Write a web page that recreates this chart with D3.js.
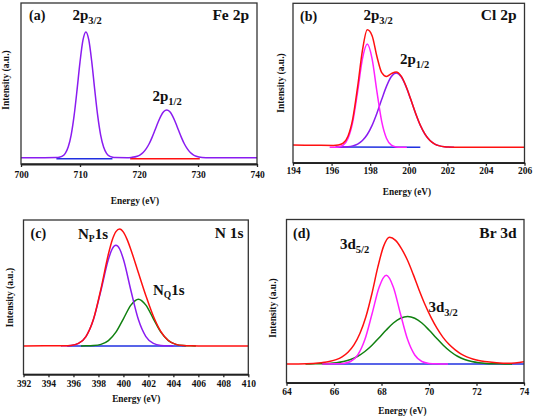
<!DOCTYPE html>
<html><head><meta charset="utf-8">
<script src="https://cdn.jsdelivr.net/npm/d3@7"></script>
<style>
body{margin:0;background:#fff}
svg{display:block}
text{font-family:"Liberation Serif","Times New Roman",serif;font-weight:bold;fill:#111}
</style>
</head><body>
<svg id="chart" width="534" height="420"></svg>
<script>
// ---------------- DATA ----------------
// (a) Fe 2p
const feTicks = [700, 710, 720, 730, 740];
const fePurple = [[700,0],[704,0],[706,0.1],[706.5,0.4],[707,1.2],[707.5,3.5],[708,8.5],[708.5,18.0],[709,33.4],[709.5,53.9],[710,76.0],[710.5,93.4],[711,100],[711.5,93.4],[712,76.0],[712.5,53.9],[713,33.4],[713.5,18.0],[714,8.5],[714.5,3.5],[715,1.2],[715.5,0.4],[716,0.1],[718,0],[718.7,0.26],[719.7,1.2],[720.2,2.3],[720.7,4.1],[721.2,7.0],[721.7,10.9],[722.2,16.0],[722.7,21.8],[723.2,27.8],[723.7,33.1],[724.2,36.7],[724.7,38],[725.2,36.7],[725.7,33.1],[726.2,27.8],[726.7,21.8],[727.2,16.0],[727.7,10.9],[728.2,7.0],[728.7,4.1],[729.2,2.3],[729.7,1.2],[730.7,0.26],[732,0],[736,0],[740,0]];
const feBlue = [[706,-0.8],[715.5,-0.8]];
const feRed = [[718.5,-0.8],[730.3,-0.8]];

// (b) Cl 2p
const clTicks = [194, 196, 198, 200, 202, 204, 206];
const clRed = [[194,1.9],[195,1.7],[196.1,1.6],[196.35,1.9],[196.6,3.5],[196.85,9.3],[197.1,24.0],[197.35,50.5],[197.6,80.7],[197.85,97.9],[198.1,93.0],[198.35,75.7],[198.6,62.2],[198.85,59.0],[199.1,61.4],[199.35,62.8],[199.6,59.5],[199.85,51.3],[200.1,40.2],[200.35,28.6],[200.6,18.4],[200.85,10.8],[201.1,5.7],[201.35,2.7],[201.6,1.2],[201.85,0.5],[202.1,0.2],[202.6,0],[206,0]];
const clMagenta = [[195.9,0],[196.1,0.05],[196.35,0.33],[196.6,1.8],[196.85,7.3],[197.1,21.4],[197.35,46.4],[197.6,73.7],[197.85,86],[198.1,73.7],[198.35,46.4],[198.6,21.4],[198.85,7.3],[199.1,1.8],[199.35,0.33],[199.6,0.05],[199.9,0]];
const clPurple = [[196.35,0.05],[196.6,0.17],[196.85,0.47],[197.1,1.2],[197.35,2.7],[197.6,5.7],[197.85,10.7],[198.1,18.3],[198.35,28.4],[198.6,40.0],[198.85,51.0],[199.1,59.0],[199.35,62],[199.6,59.0],[199.85,51.0],[200.1,40.0],[200.35,28.4],[200.6,18.3],[200.85,10.7],[201.1,5.7],[201.35,2.7],[201.6,1.2],[201.85,0.47],[202.1,0.17],[202.35,0.05]];
const clBlue = [[196.2,0.2],[200.6,0]];

// (c) N 1s
const nTicks = [392, 394, 396, 398, 400, 402, 404, 406, 408, 410];
const nRed = [[392,0],[395.2,0.06],[395.8,0.41],[396.4,2.09],[397.0,8.01],[397.6,22.8],[398.2,48.7],[398.8,78.6],[399.1,90.4],[399.4,97.75],[399.7,100],[400.0,97.3],[400.3,90.9],[400.6,82.3],[401.2,62.5],[401.8,42.9],[402.4,25.3],[403.0,12.16],[403.6,4.59],[404.2,1.33],[404.8,0.30],[405.4,0.05],[406,0],[410,0]];
const nPurple = [[395.0,0],[395.2,0.06],[395.8,0.41],[396.4,2.09],[397.0,7.96],[397.6,22.5],[398.2,47.4],[398.8,74.1],[399.1,82.9],[399.4,86],[399.7,82.9],[400.0,74.1],[400.6,47.4],[401.2,22.5],[401.8,7.96],[402.4,2.09],[403.0,0.41],[403.6,0.06],[404,0]];
const nGreen = [[396.6,0],[397.0,0.05],[397.6,0.30],[398.2,1.33],[398.8,4.53],[399.4,11.75],[400.0,23.2],[400.6,34.9],[401.2,40],[401.8,34.9],[402.4,23.2],[403.0,11.75],[403.6,4.53],[404.2,1.33],[404.8,0.30],[405.4,0.05],[405.8,0]];
const nBlue = [[395.5,0],[405,0]];

// (d) Br 3d
const brTicks = [64, 66, 68, 70, 72, 74];
const brRed = [[64,0],[64.84,0.2],[65.34,0.7],[65.59,1.3],[65.84,2.1],[66.09,3.4],[66.34,5.6],[66.59,9.2],[66.84,15],[67.09,24],[67.34,37],[67.59,55],[67.84,76],[68.09,93],[68.34,100],[68.59,97.5],[68.84,91],[69.09,82],[69.34,70.5],[69.59,58],[69.84,46.5],[70.09,36.5],[70.34,28],[70.59,21],[70.84,15.5],[71.09,11.3],[71.34,8],[71.59,5.6],[71.84,3.9],[72.09,2.7],[72.34,1.9],[72.84,1.0],[73.34,0.6],[74,1.8]];
const brMagenta = [[65.5,0],[66.1,0.06],[66.4,0.40],[66.7,1.93],[67.0,7.04],[67.3,19.2],[67.6,39.4],[67.9,60.6],[68.2,70],[68.5,60.6],[68.8,39.4],[69.1,19.2],[69.4,7.04],[69.7,1.93],[70.0,0.40],[70.3,0.06],[70.8,0]];
const brGreen = [[64.8,0],[65.2,0.07],[65.5,0.18],[65.8,0.42],[66.1,0.91],[66.4,1.85],[66.7,3.47],[67.0,6.06],[67.3,9.83],[67.6,14.8],[67.9,20.7],[68.2,26.8],[68.5,32.3],[68.8,36.1],[69.1,37.5],[69.4,36.1],[69.7,32.3],[70.0,26.8],[70.3,20.7],[70.6,14.8],[70.9,9.83],[71.2,6.06],[71.5,3.47],[71.8,1.85],[72.1,0.91],[72.4,0.42],[72.7,0.18],[73.0,0.07],[73.5,0]];
const brBlue = [[65.5,0],[74,0]];

// ---------------- COLOURS ----------------
const C = {red:"#ff1010", purple:"#8a1cf0", magenta:"#ff20ff", blue:"#2030e0", green:"#108010"};

// ---------------- PANELS ----------------
const panels = [
  {id:"a", xd:[700,740], yd:[-5,123], l:21, r:257, t:3, b:164, ticks:feTicks, pad:3.8,
   series:[{d:feBlue,c:C.blue},{d:feRed,c:C.red},{d:fePurple,c:C.purple}],
   title:{x:135, y:204}, ytitle:{x:5.5, y:80},
   tag:{x:29, y:20, t:"(a)"}, elem:{x:249, y:20, t:"Fe 2p"},
   peaks:[{x:72.5,y:20,m:"2p",s:"3/2"},{x:152.5,y:100.5,m:"2p",s:"1/2"}]},
  {id:"b", xd:[194,206], yd:[-12.8,120], l:293, r:524.5, t:3.3, b:162.7, ticks:clTicks, pad:1.2,
   series:[{d:clBlue,c:C.blue},{d:clPurple,c:C.purple},{d:clMagenta,c:C.magenta},{d:clRed,c:C.red}],
   title:{x:407, y:195}, ytitle:{x:280.5, y:83},
   tag:{x:300, y:21, t:"(b)"}, elem:{x:516.5, y:20, t:"Cl 2p"},
   peaks:[{x:363.5,y:20,m:"2p",s:"3/2"},{x:400,y:63.5,m:"2p",s:"1/2"}]},
  {id:"c", xd:[392,410], yd:[-24.3,107.7], l:23.5, r:248.3, t:220, b:374.3, ticks:nTicks, pad:2.8,
   series:[{d:nBlue,c:C.blue},{d:nGreen,c:C.green},{d:nPurple,c:C.purple},{d:nRed,c:C.red}],
   title:{x:136.3, y:401.5}, ytitle:{x:10, y:297.5},
   tag:{x:30.5, y:237.5, t:"(c)"}, elem:{x:243.5, y:237.5, t:"N 1s"},
   peaks:[{x:78,y:238.5,m:"N",s:"P",e:"1s"},{x:153,y:295,m:"N",s:"Q",e:"1s"}]},
  {id:"d", xd:[64,74], yd:[-14.8,114], l:286.5, r:524, t:219.5, b:382.7, ticks:brTicks, pad:2.6,
   series:[{d:brBlue,c:C.blue},{d:brGreen,c:C.green},{d:brMagenta,c:C.magenta},{d:brRed,c:C.red}],
   title:{x:402.5, y:414}, ytitle:{x:272.7, y:308},
   tag:{x:293, y:237.5, t:"(d)"}, elem:{x:516.5, y:237.5, t:"Br 3d"},
   peaks:[{x:340,y:248.5,m:"3d",s:"5/2"},{x:428.5,y:311.5,m:"3d",s:"3/2"}]}
];

const svg = d3.select("#chart");
svg.append("rect").attr("width",534).attr("height",420).attr("fill","#fff");
const defs = svg.append("defs");

panels.forEach(p => {
  const x = d3.scaleLinear().domain(p.xd).range([p.l, p.r]);
  const y = d3.scaleLinear().domain(p.yd).range([p.b, p.t]);
  defs.append("clipPath").attr("id","clip-"+p.id)
    .append("rect").attr("x",p.l).attr("y",p.t).attr("width",p.r-p.l).attr("height",p.b-p.t);
  const g = svg.append("g");
  const plot = g.append("g").attr("clip-path","url(#clip-"+p.id+")");
  const line = d3.line().x(d=>x(d[0])).y(d=>y(d[1])).curve(d3.curveMonotoneX);
  p.series.forEach(s => {
    plot.append("path").attr("d", line(s.d)).attr("fill","none")
      .attr("stroke", s.c).attr("stroke-width", 1.5).attr("stroke-linejoin","round");
  });
  // frame
  g.append("rect").attr("x",p.l).attr("y",p.t).attr("width",p.r-p.l).attr("height",p.b-p.t)
    .attr("fill","none").attr("stroke","#333").attr("stroke-width",1.3);
  // bottom axis
  const ax = g.append("g").attr("transform","translate(0,"+p.b+")")
    .call(d3.axisBottom(x).tickValues(p.ticks).tickSizeInner(3).tickSizeOuter(0).tickPadding(p.pad));
  ax.select(".domain").attr("stroke","#222").attr("stroke-width",1.8);
  ax.selectAll(".tick line").attr("stroke","#222").attr("stroke-width",1.3);
  ax.selectAll(".tick text").attr("font-family","Liberation Serif, Times New Roman, serif")
    .attr("font-weight","bold").attr("font-size","9.5px").attr("fill","#111");
  // titles
  g.append("text").attr("x",p.title.x).attr("y",p.title.y).attr("text-anchor","middle")
    .attr("font-size","9.3px").text("Energy (eV)");
  g.append("text").attr("transform","translate("+p.ytitle.x+","+p.ytitle.y+") rotate(-90)")
    .attr("text-anchor","middle").attr("dy","0.35em").attr("font-size","9.5px").text("Intensity (a.u.)");
  g.append("text").attr("x",p.tag.x).attr("y",p.tag.y).attr("font-size","14px").text(p.tag.t);
  g.append("text").attr("x",p.elem.x).attr("y",p.elem.y).attr("text-anchor","end")
    .attr("font-size","15.5px").text(p.elem.t);
  p.peaks.forEach(k => {
    const t = g.append("text").attr("x",k.x).attr("y",k.y).attr("font-size","15px");
    t.append("tspan").text(k.m);
    t.append("tspan").attr("font-size", k.e ? "9.5px" : "10.5px").attr("dy", k.e ? 3 : 4).text(k.s);
    if (k.e) t.append("tspan").attr("dy",-3).text(k.e);
  });
});
</script>
</body></html>
